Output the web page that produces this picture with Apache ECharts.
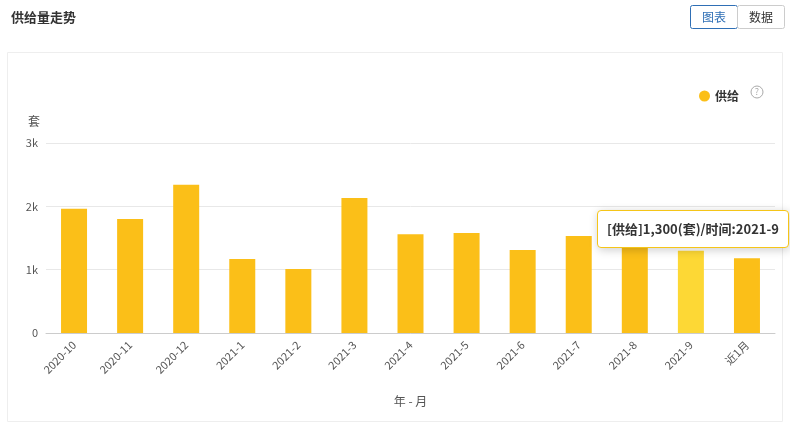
<!DOCTYPE html>
<html><head><meta charset="utf-8">
<script src="https://cdn.jsdelivr.net/npm/echarts@6/dist/echarts.min.js"></script>
<style>html,body{margin:0;padding:0;background:#fff}#c{width:790px;height:424px}</style>
</head><body><div id="c"></div>
<script>
const categories=['2020-10','2020-11','2020-12','2021-1','2021-2','2021-3','2021-4','2021-5','2021-6','2021-7','2021-8','2021-9','近1月'];
const supply=[1960,1800,2340,1170,1010,2130,1560,1580,1310,1530,1450,1300,1180];
const yTicks=[0,1000,2000,3000];
const F='"Noto Sans CJK SC","Noto Sans",sans-serif';
const chart=echarts.init(document.getElementById('c'));
chart.setOption({
 animation:false,
 textStyle:{fontFamily:F},
 title:{text:'供给量走势',left:6,top:6,textStyle:{fontSize:13,fontWeight:'bold',color:'#333',fontFamily:F}},
 graphic:[
  {type:'rect',shape:{x:7.5,y:52.5,width:775,height:369},style:{fill:'#fff',stroke:'#eeeeee'}},
  {type:'rect',shape:{x:690.5,y:5.5,width:47,height:23,r:2},style:{fill:'#fff',stroke:'#2f6fb5'},z:10},
  {type:'text',x:714,y:17,style:{text:'图表',fill:'#2f6fb5',font:'12px '+F,align:'center',verticalAlign:'middle'},z:11},
  {type:'rect',shape:{x:737.5,y:5.5,width:47,height:23,r:2},style:{fill:'#fff',stroke:'#ccc'},z:10},
  {type:'text',x:761,y:17,style:{text:'数据',fill:'#333',font:'12px '+F,align:'center',verticalAlign:'middle'},z:11},
  {type:'circle',shape:{cx:757,cy:92,r:6},style:{fill:'#fff',stroke:'#aaa'},z:10},
  {type:'text',x:757,y:92,style:{text:'?',fill:'#aaa',font:'9px '+F,align:'center',verticalAlign:'middle'},z:11}
 ],
 legend:{data:['供给'],right:46,top:85,icon:'circle',itemWidth:11,itemHeight:11,itemGap:6,textStyle:{fontSize:12,fontWeight:'bold',color:'#333'}},
 tooltip:{trigger:'item',alwaysShowContent:true,backgroundColor:'#fff',borderColor:'#f5c518',borderWidth:1,padding:[8,9],
  textStyle:{fontSize:13,fontWeight:'bold',color:'#333',fontFamily:F},
  position:function(){return [597,210];},
  formatter:p=>'['+p.seriesName+']'+p.value.toLocaleString('en-US')+'(套)/时间:'+p.name},
 grid:{left:46,right:15,top:143,bottom:91},
 xAxis:{type:'category',data:categories,name:'年 - 月',nameLocation:'middle',nameGap:62,nameTextStyle:{color:'#555',fontSize:12},
  axisLine:{lineStyle:{color:'#ccc'}},axisTick:{lineStyle:{color:'#ccc'}},
  axisLabel:{rotate:45,color:'#555',fontSize:11,margin:10}},
 yAxis:{type:'value',min:0,max:3000,interval:1000,name:'套',nameGap:16,nameTextStyle:{color:'#555',align:'right',padding:[0,6,0,0]},
  axisLabel:{color:'#555',fontSize:11,formatter:v=>yTicks.includes(v)?(v===0?'0':v/1000+'k'):''},
  splitLine:{lineStyle:{color:'#e8e8e8'}},axisLine:{show:false},axisTick:{show:false}},
 series:[{name:'供给',type:'bar',barWidth:26,data:supply.map((v,i)=>i===11?{value:v,itemStyle:{color:'#fdd835'}}:v),itemStyle:{color:'#fbbf18'},emphasis:{disabled:true}}]
});
chart.dispatchAction({type:'showTip',seriesIndex:0,dataIndex:11});
</script></body></html>
